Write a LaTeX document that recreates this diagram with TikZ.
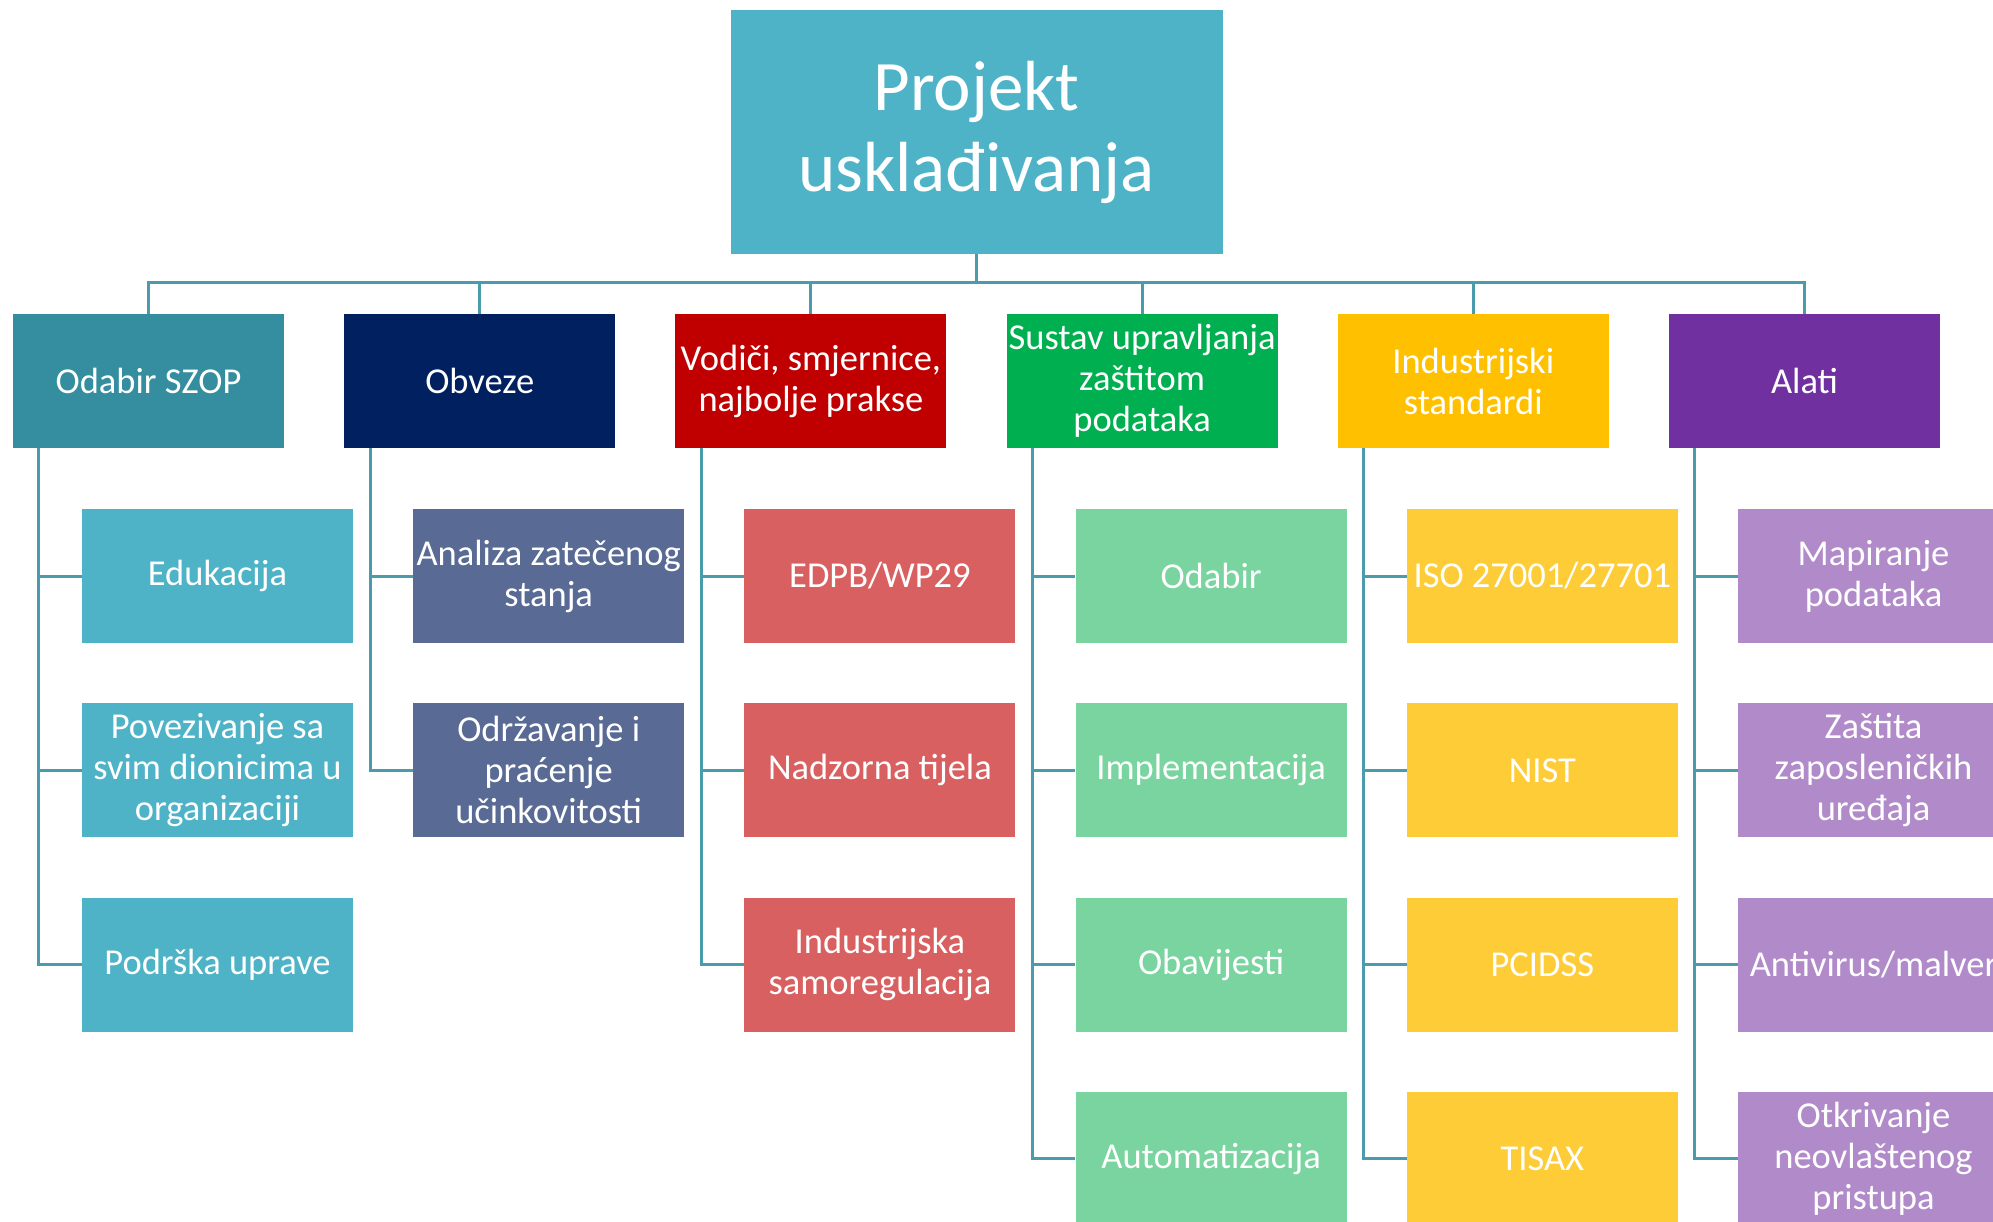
\documentclass[tikz,border=0pt]{standalone}
\usepackage{fontspec}
\setmainfont{Carlito}
\usetikzlibrary{positioning}
\usepackage{xcolor}

\definecolor{topcol}{HTML}{4FB3C8}
\definecolor{szopcol}{HTML}{358E9F}
\definecolor{obvcol}{HTML}{002060}
\definecolor{vodcol}{HTML}{C00000}
\definecolor{suscol}{HTML}{00B050}
\definecolor{indcol}{HTML}{FFC000}
\definecolor{alacol}{HTML}{7030A0}
\definecolor{szopkid}{HTML}{4FB3C8}
\definecolor{obvkid}{HTML}{596A94}
\definecolor{vodkid}{HTML}{D96060}
\definecolor{suskid}{HTML}{79D4A0}
\definecolor{indkid}{HTML}{FDCC37}
\definecolor{alakid}{HTML}{B18BC9}
\definecolor{linkcol}{HTML}{4A9BAB}

\tikzset{
  box/.style={minimum width=271pt, minimum height=134pt, inner sep=1pt, align=center,
    text=white, font=\fontsize{36.5}{41}\selectfont},
  link/.style={draw=linkcol, line width=3pt}
}

\begin{document}
\begin{tikzpicture}[x=1pt,y=-1pt]
\clip (0,0) rectangle (1993,1222);
\fill[white] (0,0) rectangle (1993,1222);

% vrh
\node[box, fill=topcol, minimum width=492pt, minimum height=244pt,
  font=\fontsize{71}{81}\selectfont] (top) at (976.5,132) {Projekt\\usklađivanja};
\coordinate (bus) at (976.5,283);
\draw[link] (top.south) -- (bus);

% prva razina
\foreach \i/\col/\txt in {1/szopcol/{Odabir SZOP}, 2/obvcol/{Obveze},
  3/vodcol/{Vodiči, smjernice,\\najbolje prakse}, 4/suscol/{Sustav upravljanja\\zaštitom\\podataka},
  5/indcol/{Industrijski\\standardi}, 6/alacol/{Alati}} {
 \node[box, fill=\col] (lvl\i) at ({148.5+331.2*(\i-1)},381) {\txt};
 \draw[link] (bus) -| (lvl\i.north);
}

% druga razina
\foreach \j/\txt in {1/{Edukacija}, 2/{Povezivanje sa\\svim dionicima u\\organizaciji}, 3/{Podrška uprave}} {
 \node[box, fill=szopkid] (kid1-\j) at (217.5,{576+194.3*(\j-1)}) {\txt};
 \draw[link] ([xshift=26pt]lvl1.south west) |- (kid1-\j.west);
}
\foreach \j/\txt in {1/{Analiza zatečenog\\stanja}, 2/{Održavanje i\\praćenje\\učinkovitosti}} {
 \node[box, fill=obvkid] (kid2-\j) at (548.7,{576+194.3*(\j-1)}) {\txt};
 \draw[link] ([xshift=26pt]lvl2.south west) |- (kid2-\j.west);
}
\foreach \j/\txt in {1/{EDPB/WP29}, 2/{Nadzorna tijela}, 3/{Industrijska\\samoregulacija}} {
 \node[box, fill=vodkid] (kid3-\j) at (879.9,{576+194.3*(\j-1)}) {\txt};
 \draw[link] ([xshift=26pt]lvl3.south west) |- (kid3-\j.west);
}
\foreach \j/\txt in {1/{Odabir}, 2/{Implementacija}, 3/{Obavijesti}, 4/{Automatizacija}} {
 \node[box, fill=suskid] (kid4-\j) at (1211.1,{576+194.3*(\j-1)}) {\txt};
 \draw[link] ([xshift=26pt]lvl4.south west) |- (kid4-\j.west);
}
\foreach \j/\txt in {1/{ISO 27001/27701}, 2/{NIST}, 3/{PCIDSS}, 4/{TISAX}} {
 \node[box, fill=indkid] (kid5-\j) at (1542.3,{576+194.3*(\j-1)}) {\txt};
 \draw[link] ([xshift=26pt]lvl5.south west) |- (kid5-\j.west);
}
\foreach \j/\txt in {1/{Mapiranje\\podataka}, 2/{Zaštita\\zaposleničkih\\uređaja}, 3/{Antivirus/malver}, 4/{Otkrivanje\\neovlaštenog\\pristupa}} {
 \node[box, fill=alakid] (kid6-\j) at (1873.5,{576+194.3*(\j-1)}) {\txt};
 \draw[link] ([xshift=26pt]lvl6.south west) |- (kid6-\j.west);
}
\end{tikzpicture}
\end{document}
